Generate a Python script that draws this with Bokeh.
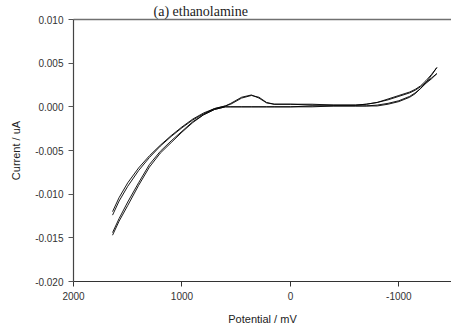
from bokeh.plotting import figure
from bokeh.models import Range1d, FixedTicker, NumeralTickFormatter, Title, LinearAxis
from bokeh.embed import file_html
from bokeh.resources import INLINE

title_text = "(a) ethanolamine"
x_label = "Potential / mV"
y_label = "Current / uA"
x_ticks = [2000, 1000, 0, -1000]
y_ticks = [-0.020, -0.015, -0.010, -0.005, 0.000, 0.005, 0.010]

potential = [1640, 1580, 1500, 1400, 1300, 1200, 1100, 1000, 900, 800, 700, 600, 550, 450,
             360, 290, 220, 150, 0, -200, -400, -600, -700, -800, -900, -1000, -1100, -1150,
             -1200, -1250, -1300, -1350]

fwd1 = [-0.0147, -0.0131, -0.0113, -0.0090, -0.0069, -0.0053, -0.0041, -0.0029, -0.0018, -0.0009,
        -0.0003, 0.0000, 0.0000, 0.0000, 0.0000, 0.0000, 0.0000, 0.0000, 0.0000, 0.0000, 0.0001,
        0.0001, 0.0001, 0.0001, 0.0003, 0.0006, 0.0011, 0.0015, 0.0021, 0.0028, 0.0036, 0.0045]
fwd2 = [-0.0144, -0.0128, -0.0109, -0.0087, -0.0066, -0.0051, -0.0039, -0.0028, -0.0017, -0.0009,
        -0.0003, 0.0000, 0.0000, 0.0000, 0.0000, 0.0000, 0.0000, 0.0000, 0.0000, 0.0001, 0.0001,
        0.0001, 0.0001, 0.0002, 0.0004, 0.0007, 0.0012, 0.0016, 0.0021, 0.0027, 0.0032, 0.0038]
ret1 = [-0.0124, -0.0108, -0.0091, -0.0073, -0.0058, -0.0045, -0.0034, -0.0024, -0.0015, -0.0008,
        -0.0002, 0.0001, 0.0004, 0.0011, 0.00136, 0.0010, 0.00045, 0.0003, 0.0003, 0.0003, 0.0002,
        0.0002, 0.0003, 0.0005, 0.0009, 0.0013, 0.0017, 0.0020, 0.0024, 0.0030, 0.0037, 0.0045]
ret2 = [-0.0120, -0.0104, -0.0087, -0.0070, -0.0056, -0.0044, -0.0033, -0.0023, -0.0014, -0.0007,
        -0.0002, 0.0001, 0.0003, 0.0010, 0.0013, 0.0011, 0.0005, 0.0003, 0.0003, 0.0002, 0.0002,
        0.0002, 0.0003, 0.0005, 0.0008, 0.0012, 0.0016, 0.0019, 0.0023, 0.0028, 0.0033, 0.0038]

p = figure(width=451, height=327, output_backend="svg", toolbar_location=None,
           x_range=Range1d(2000, -1485), y_range=Range1d(-0.020, 0.010))
p.min_border_left = 73
p.min_border_right = 0
p.min_border_top = 0
p.min_border_bottom = 45
p.outline_line_color = None
p.background_fill_color = "white"
p.border_fill_color = "white"
p.xgrid.visible = False
p.ygrid.visible = False

for fwd, ret in [(fwd1, ret1), (fwd2, ret2)]:
    xs = potential + potential[::-1]
    ys = fwd + ret[::-1]
    p.line(xs, ys, line_color="black", line_width=0.9)

font = "Liberation Sans"
xa = p.xaxis[0]
xa.ticker = FixedTicker(ticks=x_ticks)
xa.formatter = NumeralTickFormatter(format="0")
xa.axis_label = x_label
xa.axis_line_color = "#333333"
xa.major_tick_line_color = "#333333"
xa.minor_tick_line_color = None
xa.major_tick_out = 5
xa.major_tick_in = 0
xa.major_label_text_font = font
xa.major_label_text_font_size = "10px"
xa.major_label_text_color = "#333333"
xa.major_label_standoff = 5
xa.axis_label_text_font = font
xa.axis_label_text_font_size = "11px"
xa.axis_label_text_font_style = "normal"
xa.axis_label_text_color = "#222222"
xa.axis_label_standoff = 10

ya = p.yaxis[0]
ya.ticker = FixedTicker(ticks=y_ticks)
ya.formatter = NumeralTickFormatter(format="0.000")
ya.axis_label = y_label
ya.axis_line_color = "#444444"
ya.axis_line_width = 1.2
ya.major_tick_line_color = "#555555"
ya.minor_tick_line_color = None
ya.major_tick_out = 5
ya.major_tick_in = 0
ya.major_label_text_font = font
ya.major_label_text_font_size = "10px"
ya.major_label_text_color = "#333333"
ya.major_label_standoff = 5
ya.axis_label_text_font = font
ya.axis_label_text_font_size = "11px"
ya.axis_label_text_font_style = "normal"
ya.axis_label_text_color = "#222222"
ya.axis_label_standoff = 10

top = LinearAxis(ticker=FixedTicker(ticks=x_ticks), axis_line_color="#707070", axis_line_width=1.5,
                 major_label_text_font_size="1px", major_label_text_color=None,
                 major_tick_line_color=None, minor_tick_line_color=None,
                 major_label_standoff=0, major_tick_out=0, major_tick_in=0)
p.add_layout(top, "above")

p.add_layout(Title(text=title_text, align="left", offset=80, standoff=2,
                   text_font="Liberation Serif", text_font_size="14px",
                   text_font_style="normal", text_color="#222222"), "above")

open("out.html", "w").write(file_html(p, INLINE))
